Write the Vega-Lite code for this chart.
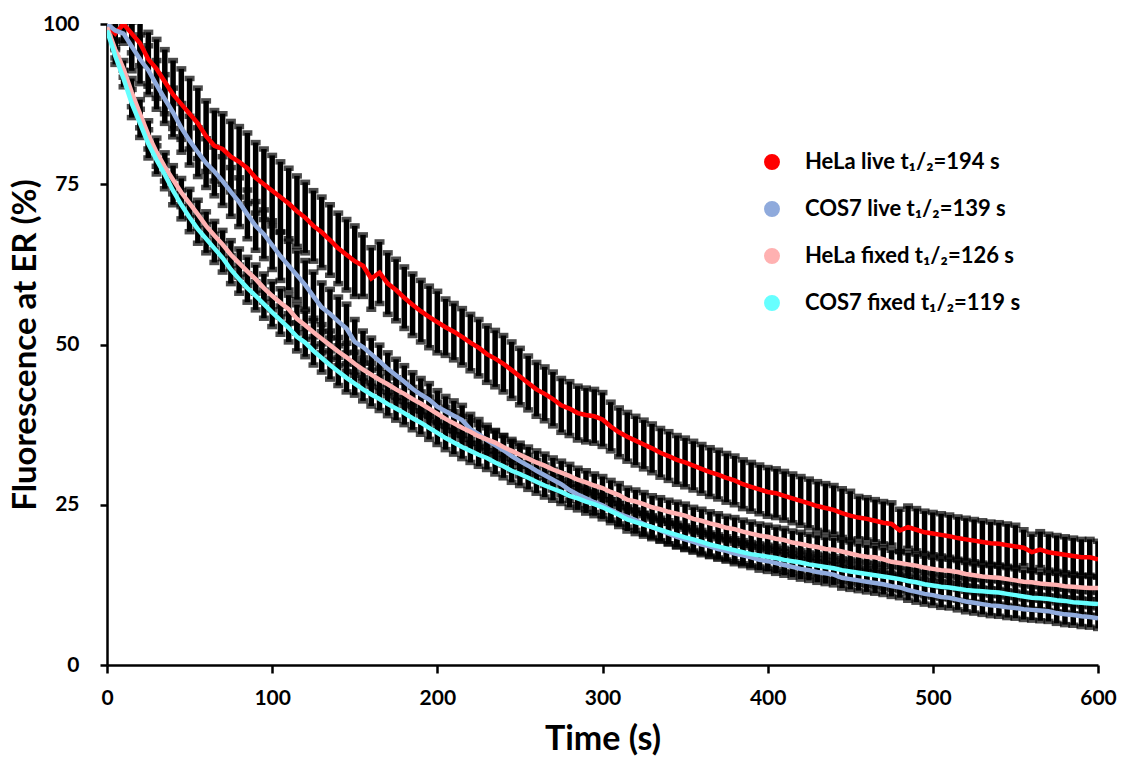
{
"$schema": "https://vega.github.io/schema/vega-lite/v6.json",
"width": 991, "height": 641,
"autosize": {"type": "none"},
"padding": {"left": 107, "top": 24, "right": 27, "bottom": 97},
"background": "white",
"config": {
 "view": {"stroke": null},
 "font": "Lato",
 "axis": {"grid": false, "domainColor": "black", "domainWidth": 2.5, "tickColor": "black", "tickWidth": 2.5, "labelFont": "Lato", "labelFontWeight": "bold", "labelFontSize": 21, "labelColor": "black", "titleFont": "Lato", "titleFontWeight": "bold", "titleColor": "black", "titleFontSize": 33, "labelFlush": false, "labelOverlap": false},
 "axisX": {"tickSize": 8, "labelPadding": 14, "titlePadding": 14, "titleFontSize": 34},
 "axisY": {"tickSize": 7, "labelPadding": 21, "titlePadding": 0}
},
"data": {"values": [
{"t":0,"A":100,"B":100,"C":99.5,"D":99,"a":2.5,"b":1.5,"c":1.3,"d":1.3},
{"t":5,"A":98.5,"B":99,"C":96,"D":95,"a":2.5,"b":1.5,"c":1.3,"d":1.3},
{"t":10,"A":100,"B":98.5,"C":93,"D":91.5,"a":2.5,"b":1.5,"c":1.3,"d":1.3},
{"t":15,"A":98.5,"B":96.5,"C":89.3,"D":87.6,"a":3,"b":3.8,"c":2.2,"d":2.2},
{"t":20,"A":97,"B":94.5,"C":86,"D":84.5,"a":3.5,"b":3.8,"c":2.2,"d":2.2},
{"t":25,"A":94.5,"B":92.8,"C":82.7,"D":81.3,"a":4.2,"b":3.8,"c":2.2,"d":2.2},
{"t":30,"A":93,"B":90.5,"C":80,"D":78.8,"a":4.6,"b":3.8,"c":2.2,"d":2.2},
{"t":35,"A":91,"B":88.3,"C":77.7,"D":76.5,"a":5,"b":3.8,"c":2.2,"d":2.2},
{"t":40,"A":89,"B":86.2,"C":75.7,"D":74,"a":5.3,"b":3.8,"c":2.2,"d":2.2},
{"t":45,"A":87.5,"B":83.8,"C":73.7,"D":71.8,"a":5.5,"b":3.8,"c":2.2,"d":2.2},
{"t":50,"A":86,"B":81.8,"C":72,"D":69.8,"a":5.5,"b":3.8,"c":2.2,"d":2.2},
{"t":55,"A":84.5,"B":80,"C":70.3,"D":68,"a":5.5,"b":3.8,"c":2.2,"d":2.2},
{"t":60,"A":82.5,"B":78.3,"C":68.5,"D":66.5,"a":5.5,"b":3.8,"c":2.2,"d":2.2},
{"t":65,"A":81,"B":77,"C":67,"D":65,"a":5.5,"b":3.8,"c":2.2,"d":2.2},
{"t":70,"A":80.5,"B":75.5,"C":65.6,"D":63.5,"a":5.5,"b":3.8,"c":2.2,"d":2.2},
{"t":75,"A":79.3,"B":73.8,"C":64,"D":61.7,"a":5.5,"b":3.8,"c":2.2,"d":2.2},
{"t":80,"A":78.5,"B":72.2,"C":62.7,"D":60.2,"a":5.5,"b":3.8,"c":2.2,"d":2.2},
{"t":85,"A":77.5,"B":70.3,"C":61.4,"D":58.8,"a":5.5,"b":3.8,"c":2.2,"d":2.2},
{"t":90,"A":76,"B":68.5,"C":60.2,"D":57.6,"a":5.5,"b":3.8,"c":2.2,"d":2.2},
{"t":95,"A":75,"B":67.2,"C":58.8,"D":56.3,"a":5.5,"b":3.8,"c":2.2,"d":2.2},
{"t":100,"A":74,"B":65.5,"C":57.6,"D":55,"a":5.5,"b":3.8,"c":2.2,"d":2.2},
{"t":105,"A":73,"B":63.8,"C":56.5,"D":53.8,"a":5.5,"b":3.8,"c":2.2,"d":2.2},
{"t":110,"A":72,"B":62.3,"C":55.5,"D":52.6,"a":5.5,"b":3.8,"c":2.2,"d":2.2},
{"t":115,"A":70.8,"B":60.8,"C":54,"D":51.2,"a":5.5,"b":3.8,"c":2.2,"d":2.2},
{"t":120,"A":69.8,"B":59.3,"C":53,"D":50.3,"a":5.5,"b":3.8,"c":2.2,"d":2.2},
{"t":125,"A":68.5,"B":57.5,"C":51.9,"D":49,"a":5.5,"b":3.8,"c":2.2,"d":2.2},
{"t":130,"A":67.5,"B":55.8,"C":50.9,"D":47.9,"a":5.5,"b":3.8,"c":2.2,"d":2.2},
{"t":135,"A":66.3,"B":54.8,"C":49.9,"D":46.8,"a":5.5,"b":3.8,"c":2.2,"d":2.2},
{"t":140,"A":65,"B":53.6,"C":48.9,"D":45.8,"a":5.5,"b":3.8,"c":2.2,"d":2.2},
{"t":145,"A":64,"B":52.5,"C":48,"D":44.8,"a":5.5,"b":3.8,"c":2.2,"d":2.2},
{"t":150,"A":63,"B":50.4,"C":47,"D":43.9,"a":5.5,"b":3.5,"c":1.8,"d":1.8},
{"t":155,"A":62.3,"B":49.6,"C":46.1,"D":43,"a":4.8,"b":2.5,"c":1.8,"d":1.8},
{"t":160,"A":60.3,"B":48.5,"C":45.3,"D":42.2,"a":4.8,"b":2.5,"c":1.8,"d":1.8},
{"t":165,"A":61.2,"B":47.4,"C":44.5,"D":41.5,"a":4.8,"b":2.5,"c":1.8,"d":1.8},
{"t":170,"A":59.5,"B":46.2,"C":43.8,"D":40.7,"a":4.8,"b":2.5,"c":1.8,"d":1.8},
{"t":175,"A":58.5,"B":45.2,"C":43,"D":40,"a":4.8,"b":2.5,"c":1.8,"d":1.8},
{"t":180,"A":57.3,"B":44.2,"C":42.3,"D":39.3,"a":4.8,"b":2.5,"c":1.8,"d":1.8},
{"t":185,"A":56.2,"B":43.1,"C":41.5,"D":38.5,"a":4.8,"b":2.5,"c":1.8,"d":1.8},
{"t":190,"A":55.2,"B":42.2,"C":40.8,"D":37.8,"a":4.8,"b":2.5,"c":1.8,"d":1.8},
{"t":195,"A":54.3,"B":41.4,"C":40,"D":37,"a":4.8,"b":2.5,"c":1.8,"d":1.8},
{"t":200,"A":53.5,"B":40.3,"C":39.2,"D":36.2,"a":4.8,"b":2.5,"c":1.8,"d":1.8},
{"t":205,"A":52.7,"B":39.6,"C":38.4,"D":35.4,"a":4.4,"b":2.3,"c":1.8,"d":1.8},
{"t":210,"A":52,"B":38.9,"C":37.7,"D":34.7,"a":4.4,"b":2.3,"c":1.8,"d":1.8},
{"t":215,"A":51.2,"B":38.2,"C":37,"D":34,"a":4.4,"b":2.3,"c":1.8,"d":1.8},
{"t":220,"A":50.3,"B":36.8,"C":36.4,"D":33.4,"a":4.4,"b":2.3,"c":1.8,"d":1.8},
{"t":225,"A":49.5,"B":36,"C":35.7,"D":32.8,"a":4.4,"b":2.3,"c":1.8,"d":1.8},
{"t":230,"A":48.5,"B":35.1,"C":35.2,"D":32.3,"a":4.4,"b":2.3,"c":1.8,"d":1.8},
{"t":235,"A":47.8,"B":34.3,"C":34.7,"D":31.6,"a":4.4,"b":2.3,"c":1.8,"d":1.8},
{"t":240,"A":47,"B":33.5,"C":34,"D":31,"a":4.4,"b":2.3,"c":1.8,"d":1.8},
{"t":245,"A":46,"B":32.6,"C":33.4,"D":30.3,"a":4.4,"b":2.3,"c":1.8,"d":1.8},
{"t":250,"A":45,"B":31.8,"C":32.8,"D":29.8,"a":4.4,"b":2.3,"c":1.8,"d":1.8},
{"t":255,"A":44,"B":31.1,"C":32.2,"D":29.2,"a":4.2,"b":1.6,"c":1.8,"d":1.8},
{"t":260,"A":43,"B":30.3,"C":31.6,"D":28.6,"a":4.2,"b":1.6,"c":1.8,"d":1.8},
{"t":265,"A":42.3,"B":29.6,"C":31.1,"D":28,"a":4.2,"b":1.6,"c":1.8,"d":1.8},
{"t":270,"A":41.5,"B":28.9,"C":30.5,"D":27.5,"a":4.2,"b":1.6,"c":1.8,"d":1.8},
{"t":275,"A":40.5,"B":28.2,"C":30,"D":27,"a":4.2,"b":1.6,"c":1.8,"d":1.8},
{"t":280,"A":40,"B":27.3,"C":29.5,"D":26.4,"a":4.2,"b":1.6,"c":1.8,"d":1.8},
{"t":285,"A":39.3,"B":26.6,"C":28.9,"D":26,"a":4.2,"b":1.6,"c":1.8,"d":1.8},
{"t":290,"A":39,"B":26,"C":28.5,"D":25.5,"a":4.2,"b":1.6,"c":1.8,"d":1.8},
{"t":295,"A":38.8,"B":25.4,"C":28,"D":25.1,"a":4.2,"b":1.6,"c":1.8,"d":1.8},
{"t":300,"A":38.3,"B":24.9,"C":27.6,"D":24.6,"a":4.2,"b":1.6,"c":1.8,"d":1.8},
{"t":305,"A":37.2,"B":24.2,"C":27,"D":24,"a":3.8,"b":1.6,"c":1.8,"d":1.8},
{"t":310,"A":36.3,"B":23.6,"C":26.5,"D":23.4,"a":3.8,"b":1.6,"c":1.8,"d":1.8},
{"t":315,"A":35.6,"B":23.1,"C":25.8,"D":22.7,"a":3.8,"b":1.6,"c":1.8,"d":1.8},
{"t":320,"A":35,"B":22.6,"C":25.5,"D":22.3,"a":3.8,"b":1.6,"c":1.8,"d":1.8},
{"t":325,"A":34.4,"B":22,"C":25.1,"D":21.9,"a":3.8,"b":1.6,"c":1.8,"d":1.8},
{"t":330,"A":33.8,"B":21.5,"C":24.6,"D":21.5,"a":3.8,"b":1.6,"c":1.8,"d":1.8},
{"t":335,"A":33.1,"B":21,"C":24.3,"D":21.1,"a":3.8,"b":1.6,"c":1.8,"d":1.8},
{"t":340,"A":32.6,"B":20.5,"C":23.9,"D":20.7,"a":3.8,"b":1.6,"c":1.8,"d":1.8},
{"t":345,"A":32,"B":20,"C":23.6,"D":20.3,"a":3.8,"b":1.6,"c":1.8,"d":1.8},
{"t":350,"A":31.6,"B":19.6,"C":23.3,"D":19.9,"a":3.8,"b":1.6,"c":1.8,"d":1.8},
{"t":355,"A":31.1,"B":19.2,"C":22.8,"D":19.6,"a":3.8,"b":1.6,"c":1.8,"d":1.8},
{"t":360,"A":30.6,"B":18.8,"C":22.5,"D":19.2,"a":3.8,"b":1.6,"c":1.8,"d":1.8},
{"t":365,"A":30.1,"B":18.5,"C":22.1,"D":18.8,"a":3.8,"b":1.6,"c":1.8,"d":1.8},
{"t":370,"A":29.7,"B":18.1,"C":21.8,"D":18.5,"a":3.8,"b":1.6,"c":1.8,"d":1.8},
{"t":375,"A":29.2,"B":17.8,"C":21.4,"D":18.2,"a":3.8,"b":1.6,"c":1.8,"d":1.8},
{"t":380,"A":28.8,"B":17.4,"C":21.2,"D":17.9,"a":3.8,"b":1.6,"c":1.8,"d":1.8},
{"t":385,"A":28.2,"B":17.1,"C":20.8,"D":17.6,"a":3.8,"b":1.6,"c":1.8,"d":1.8},
{"t":390,"A":27.8,"B":16.8,"C":20.5,"D":17.3,"a":3.8,"b":1.6,"c":1.8,"d":1.8},
{"t":395,"A":27.4,"B":16.4,"C":20.2,"D":17.1,"a":3.8,"b":1.6,"c":1.8,"d":1.8},
{"t":400,"A":27,"B":16.2,"C":20,"D":16.9,"a":3.8,"b":1.6,"c":1.8,"d":1.8},
{"t":405,"A":26.8,"B":15.9,"C":19.7,"D":16.7,"a":3.8,"b":1.6,"c":1.8,"d":1.8},
{"t":410,"A":26.4,"B":15.6,"C":19.5,"D":16.4,"a":3.8,"b":1.6,"c":1.8,"d":1.8},
{"t":415,"A":26,"B":15.3,"C":19.1,"D":16.2,"a":3.8,"b":1.6,"c":1.8,"d":1.8},
{"t":420,"A":25.6,"B":15,"C":18.9,"D":16,"a":3.8,"b":1.6,"c":1.8,"d":1.8},
{"t":425,"A":25.2,"B":14.8,"C":18.6,"D":15.7,"a":3.8,"b":1.6,"c":1.8,"d":1.8},
{"t":430,"A":24.8,"B":14.5,"C":18.4,"D":15.5,"a":3.8,"b":1.6,"c":1.8,"d":1.8},
{"t":435,"A":24.5,"B":14.3,"C":18.1,"D":15.3,"a":3.8,"b":1.6,"c":1.8,"d":1.8},
{"t":440,"A":24.2,"B":14.1,"C":18,"D":15.1,"a":3.8,"b":1.6,"c":1.8,"d":1.8},
{"t":445,"A":23.7,"B":13.6,"C":17.7,"D":14.8,"a":3.8,"b":1.6,"c":1.8,"d":1.8},
{"t":450,"A":23.3,"B":13.4,"C":17.4,"D":14.6,"a":3.8,"b":1.6,"c":1.8,"d":1.8},
{"t":455,"A":23,"B":13.2,"C":17.1,"D":14.4,"a":3.3,"b":1.6,"c":1.8,"d":1.8},
{"t":460,"A":22.8,"B":13,"C":16.9,"D":14.2,"a":3.3,"b":1.6,"c":1.8,"d":1.8},
{"t":465,"A":22.5,"B":12.8,"C":16.8,"D":14,"a":3.3,"b":1.6,"c":1.8,"d":1.8},
{"t":470,"A":22.2,"B":12.6,"C":16.5,"D":13.8,"a":3.3,"b":1.6,"c":1.8,"d":1.8},
{"t":475,"A":22,"B":12.3,"C":16.1,"D":13.6,"a":3.3,"b":1.6,"c":1.8,"d":1.8},
{"t":480,"A":21,"B":12.1,"C":15.9,"D":13.4,"a":3.3,"b":1.6,"c":1.8,"d":1.8},
{"t":485,"A":21.5,"B":11.7,"C":15.7,"D":13.1,"a":3.3,"b":1.6,"c":1.8,"d":1.8},
{"t":490,"A":21.1,"B":11.4,"C":15.5,"D":12.9,"a":3.3,"b":1.6,"c":1.8,"d":1.8},
{"t":495,"A":20.7,"B":11.1,"C":15.2,"D":12.6,"a":3.3,"b":1.6,"c":1.8,"d":1.8},
{"t":500,"A":20.5,"B":10.9,"C":15,"D":12.4,"a":3.3,"b":1.6,"c":1.8,"d":1.8},
{"t":505,"A":20.3,"B":10.6,"C":14.8,"D":12.2,"a":3.3,"b":1.6,"c":1.8,"d":1.8},
{"t":510,"A":20.1,"B":10.5,"C":14.7,"D":12.1,"a":3.3,"b":1.6,"c":1.8,"d":1.8},
{"t":515,"A":19.8,"B":10.2,"C":14.5,"D":11.9,"a":3.3,"b":1.6,"c":1.8,"d":1.8},
{"t":520,"A":19.6,"B":9.9,"C":14.2,"D":11.7,"a":3.3,"b":1.6,"c":1.8,"d":1.8},
{"t":525,"A":19.4,"B":9.7,"C":14,"D":11.6,"a":3.3,"b":1.6,"c":1.8,"d":1.8},
{"t":530,"A":19.2,"B":9.5,"C":13.8,"D":11.5,"a":3.3,"b":1.6,"c":1.8,"d":1.8},
{"t":535,"A":19,"B":9.3,"C":13.7,"D":11.4,"a":3.3,"b":1.6,"c":1.8,"d":1.8},
{"t":540,"A":18.9,"B":9.2,"C":13.6,"D":11.3,"a":3.3,"b":1.6,"c":1.8,"d":1.8},
{"t":545,"A":18.7,"B":9,"C":13.4,"D":11.1,"a":3.3,"b":1.6,"c":1.8,"d":1.8},
{"t":550,"A":18.5,"B":8.9,"C":13.2,"D":10.9,"a":3.3,"b":1.6,"c":1.8,"d":1.8},
{"t":555,"A":18.3,"B":8.7,"C":13,"D":10.7,"a":2.8,"b":1.6,"c":1.8,"d":1.8},
{"t":560,"A":17.6,"B":8.6,"C":12.9,"D":10.5,"a":2.8,"b":1.6,"c":1.8,"d":1.8},
{"t":565,"A":18,"B":8.5,"C":12.7,"D":10.4,"a":2.8,"b":1.6,"c":1.8,"d":1.8},
{"t":570,"A":17.6,"B":8.4,"C":12.6,"D":10.3,"a":2.8,"b":1.6,"c":1.8,"d":1.8},
{"t":575,"A":17.4,"B":8.1,"C":12.5,"D":10.1,"a":2.8,"b":1.6,"c":1.8,"d":1.8},
{"t":580,"A":17.2,"B":7.9,"C":12.3,"D":10,"a":2.8,"b":1.6,"c":1.8,"d":1.8},
{"t":585,"A":17,"B":7.8,"C":12.2,"D":9.8,"a":2.8,"b":1.6,"c":1.8,"d":1.8},
{"t":590,"A":16.8,"B":7.6,"C":12.1,"D":9.7,"a":2.8,"b":1.6,"c":1.8,"d":1.8},
{"t":595,"A":16.8,"B":7.5,"C":12,"D":9.6,"a":2.8,"b":1.6,"c":1.8,"d":1.8},
{"t":600,"A":16.5,"B":7.3,"C":12,"D":9.5,"a":2.8,"b":1.6,"c":1.8,"d":1.8}
]},
"encoding": {
 "x": {"field": "t", "type": "quantitative", "title": "Time (s)", "scale": {"domain": [0, 600], "nice": false}, "axis": {"values": [0, 100, 200, 300, 400, 500, 600]}}
},
"layer": [
 {"mark": {"type": "errorbar", "ticks": true, "thickness": 5.5, "size": 10, "color": "black", "clip": true},
  "encoding": {"y": {"field": "A", "type": "quantitative", "title": "Fluorescence at ER (%)", "scale": {"domain": [0, 100], "nice": false}, "axis": {"values": [0, 25, 50, 75, 100]}}, "yError": {"field": "a"}}},
 {"mark": {"type": "errorbar", "ticks": true, "thickness": 5.5, "size": 10, "color": "black", "clip": true},
  "encoding": {"y": {"field": "B", "type": "quantitative", "title": "Fluorescence at ER (%)", "scale": {"domain": [0, 100], "nice": false}, "axis": {"values": [0, 25, 50, 75, 100]}}, "yError": {"field": "b"}}},
 {"mark": {"type": "errorbar", "ticks": true, "thickness": 5.5, "size": 10, "color": "black", "clip": true},
  "encoding": {"y": {"field": "C", "type": "quantitative", "title": "Fluorescence at ER (%)", "scale": {"domain": [0, 100], "nice": false}, "axis": {"values": [0, 25, 50, 75, 100]}}, "yError": {"field": "c"}}},
 {"mark": {"type": "errorbar", "ticks": true, "thickness": 5.5, "size": 10, "color": "black", "clip": true},
  "encoding": {"y": {"field": "D", "type": "quantitative", "title": "Fluorescence at ER (%)", "scale": {"domain": [0, 100], "nice": false}, "axis": {"values": [0, 25, 50, 75, 100]}}, "yError": {"field": "d"}}},
 {"transform": [{"fold": ["A", "B", "C", "D"], "as": ["s", "y"]}],
  "mark": {"type": "line", "strokeWidth": 4.5, "clip": true},
  "encoding": {
   "y": {"field": "y", "type": "quantitative", "title": "Fluorescence at ER (%)", "scale": {"domain": [0, 100], "nice": false}, "axis": {"values": [0, 25, 50, 75, 100]}},
   "color": {"field": "s", "type": "nominal", "title": null,
     "scale": {"domain": ["A", "B", "C", "D"], "range": ["#ff0000", "#8faadc", "#ffb1b1", "#66ffff"]},
     "legend": {"orient": "none", "legendX": 654, "legendY": 127, "padding": 0, "symbolType": "circle", "symbolSize": 254, "symbolStrokeWidth": 0, "rowPadding": 25, "labelOffset": 22, "labelFont": "Lato", "labelFontSize": 22, "labelFontWeight": "bold", "labelColor": "black", "labelLimit": 400,
       "labelExpr": "{'A':'HeLa live t₁/₂=194 s','B':'COS7 live t₁/₂=139 s','C':'HeLa fixed t₁/₂=126 s','D':'COS7 fixed t₁/₂=119 s'}[datum.label]",
       "encode": {"symbols": {"update": {"fill": {"scale": "color", "field": "value"}, "opacity": {"value": 1}}}}}}
  }}
]
}
